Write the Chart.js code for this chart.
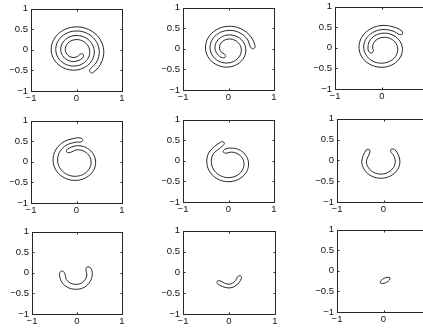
<!DOCTYPE html>
<html>
<head>
<meta charset="utf-8">
<script src="https://cdn.jsdelivr.net/npm/chart.js@4.4.1/dist/chart.umd.min.js"></script>
<style>
  html, body { margin: 0; padding: 0; background: #fff; }
  body { width: 423px; height: 331px; position: relative; overflow: hidden; }
  canvas { position: absolute; }
</style>
</head>
<body>
<script>
// Outline of the band at each snapshot (closed curves, axis units)
const p1x = [0.350, 0.531, 0.600, 0.500, 0.268, -0.030, -0.310, -0.500, -0.555, -0.470, -0.275, -0.030, 0.198, 0.349, 0.390, 0.319, 0.163, -0.030, -0.205, -0.318, -0.345, -0.288, -0.170, -0.030, 0.093, 0.149,
  0.143,
  0.072, 0.043, -0.030, -0.120, -0.201, -0.245, -0.231, -0.155, -0.030, 0.113, 0.232, 0.290, 0.262, 0.148, -0.030, -0.225, -0.383, -0.455, -0.413, -0.260, -0.030, 0.218, 0.414, 0.500, 0.444, 0.293,
  0.300];
const p1y = [-0.562, -0.344, -0.020, 0.286, 0.495, 0.558, 0.465, 0.251, -0.020, -0.274, -0.444, -0.493, -0.414, -0.239, -0.020, 0.181, 0.313, 0.348, 0.283, 0.146, -0.020, -0.169, -0.262, -0.283, -0.232, -0.170,
  -0.100,
  -0.106, -0.146, -0.183, -0.176, -0.119, -0.020, 0.096, 0.197, 0.248, 0.227, 0.131, -0.020, -0.189, -0.327, -0.393, -0.358, -0.224, -0.020, 0.201, 0.378, 0.458, 0.409, 0.236, -0.020, -0.294, -0.480,
  -0.540];

const p2x = [0.585, 0.495, 0.273, -0.010, -0.275, -0.454, -0.505, -0.424, -0.240, -0.010, 0.203, 0.343, 0.380, 0.313, 0.168, -0.010, -0.170, -0.272, -0.295, -0.242, -0.135,
  -0.067,
  -0.085, -0.155, -0.195, -0.185, -0.120, -0.010, 0.118, 0.226, 0.280, 0.256, 0.153, -0.010, -0.190, -0.337, -0.405, -0.367, -0.225, -0.010, 0.223, 0.408, 0.485,
  0.539];
const p2y = [0.052, 0.291, 0.489, 0.548, 0.459, 0.256, 0.000, -0.239, -0.398, -0.443, -0.368, -0.204, 0.000, 0.186, 0.307, 0.338, 0.277, 0.151, 0.000, -0.134, -0.217,
  -0.198,
  -0.130, -0.084, 0.000, 0.101, 0.191, 0.238, 0.221, 0.136, 0.000, -0.154, -0.281, -0.343, -0.312, -0.189, 0.000, 0.206, 0.372, 0.448, 0.403, 0.241, 0.043,
  -0.002];

const p3x = [0.430, 0.306, 0.020, -0.250, -0.434, -0.489, -0.407, -0.219, 0.020, 0.243, 0.392, 0.434, 0.365, 0.211, 0.020, -0.155, -0.270, -0.299, -0.280,
  -0.219,
  -0.184, -0.199, -0.183, -0.105, 0.020, 0.161, 0.278, 0.334, 0.305, 0.193, 0.020, -0.169, -0.320, -0.389, -0.348, -0.200, 0.020, 0.256, 0.359,
  0.430];
const p3y = [0.400, 0.486, 0.546, 0.458, 0.252, -0.010, -0.256, -0.423, -0.471, -0.396, -0.225, -0.010, 0.189, 0.321, 0.356, 0.293, 0.157, -0.010, -0.091,
  -0.126,
  -0.065, -0.010, 0.107, 0.207, 0.256, 0.234, 0.139, -0.010, -0.175, -0.309, -0.371, -0.337, -0.206, -0.010, 0.202, 0.371, 0.446, 0.399, 0.329,
  0.329];

const p4x = [0.099, 0.000, -0.273, -0.460, -0.515, -0.433, -0.242, 0.000, 0.226, 0.378, 0.420, 0.350, 0.194, 0.000, -0.203,
  -0.216,
  -0.146, 0.000, 0.144, 0.264, 0.320, 0.291, 0.176, 0.000, -0.192, -0.346, -0.415, -0.373, -0.223, 0.000, 0.081,
  0.139];
const p4y = [0.577, 0.581, 0.492, 0.284, 0.018, -0.232, -0.401, -0.450, -0.373, -0.200, 0.018, 0.220, 0.355, 0.391, 0.308,
  0.238,
  0.226, 0.291, 0.268, 0.170, 0.018, -0.150, -0.287, -0.350, -0.314, -0.182, 0.018, 0.234, 0.405, 0.481, 0.479,
  0.519];

const p5x = [-0.155, -0.423, -0.476, -0.394, -0.205, 0.032, 0.253, 0.400, 0.440, 0.371, 0.219, 0.032, -0.087,
  -0.117,
  -0.053, 0.032, 0.169, 0.284, 0.340, 0.313, 0.203, 0.032, -0.155, -0.307, -0.376, -0.336, -0.121,
  -0.091];
const p5y = [0.466, 0.214, -0.048, -0.294, -0.459, -0.506, -0.430, -0.260, -0.048, 0.148, 0.277, 0.310, 0.278,
  0.214,
  0.184, 0.210, 0.190, 0.098, -0.048, -0.210, -0.344, -0.406, -0.373, -0.244, -0.048, 0.164, 0.372,
  0.436];

const p6x = [-0.372, -0.467, -0.409, -0.256, -0.050, 0.154, 0.302, 0.353, 0.297, 0.233,
  0.162,
  0.162, 0.211, 0.253, 0.215, 0.104, -0.050, -0.206, -0.323, -0.367, -0.295,
  -0.301];
const p6y = [0.250, -0.020, -0.228, -0.377, -0.430, -0.373, -0.223, -0.020, 0.181, 0.263,
  0.263,
  0.192, 0.131, -0.020, -0.173, -0.287, -0.330, -0.290, -0.178, -0.020, 0.186,
  0.256];

const p7x = [-0.389, -0.342, -0.210, -0.030, 0.153, 0.286, 0.340, 0.305,
  0.226,
  0.197, 0.220, 0.182, 0.093, -0.030, -0.150, -0.238, -0.269,
  -0.324];
const p7y = [-0.009, -0.220, -0.352, -0.400, -0.356, -0.223, -0.040, 0.117,
  0.145,
  0.066, -0.040, -0.163, -0.252, -0.280, -0.248, -0.160, -0.019,
  0.046];

const p8x = [-0.243, -0.137, 0.000, 0.123, 0.216, 0.270, 0.250, 0.190, 0.144, 0.077, 0.000, -0.103, -0.197, -0.259];
const p8y = [-0.279, -0.342, -0.375, -0.338, -0.246, -0.140, -0.080, -0.100, -0.194, -0.262, -0.285, -0.258, -0.201, -0.217];

const p9x = [0.140, 0.090, 0.009, -0.057, -0.068, -0.018, 0.064, 0.129];
const p9y = [-0.172, -0.156, -0.184, -0.241, -0.292, -0.308, -0.280, -0.223];

const xTicks = [-1, 0, 1];
const yTicks = [-1, -0.5, 0, 0.5, 1];

const curvesX = [p1x, p2x, p3x, p4x, p5x, p6x, p7x, p8x, p9x];
const curvesY = [p1y, p2y, p3y, p4y, p5y, p6y, p7y, p8y, p9y];

// plot area of each panel on the page: left, top, width, height
const boxes = [
  [31, 7, 91, 84], [183, 6, 91, 84], [335, 5, 94, 84],
  [31, 119, 91, 84], [183, 118, 91, 84], [337, 117, 93, 85],
  [32, 230, 90, 84], [183, 229, 92, 85], [337, 228, 93, 84]
];

const INK = '#262626';
const PAD_L = 32, PAD_T = 7, PAD_R = 8, PAD_B = 18;

const fmt = v => String(v).replace('-', '\u2212');

// full box round the axes with short inward tick marks
const frame = {
  id: 'frame',
  afterDraw(chart) {
    const { ctx, chartArea: a, scales } = chart;
    const l = Math.round(a.left) + 0.5, t = Math.round(a.top) + 0.5;
    const r = Math.round(a.right) + 0.5, b = Math.round(a.bottom) + 0.5;
    ctx.save();
    ctx.strokeStyle = INK;
    ctx.lineWidth = 1;
    ctx.strokeRect(l, t, r - l, b - t);
    ctx.beginPath();
    xTicks.forEach(v => {
      const px = Math.round(scales.x.getPixelForValue(v)) + 0.5;
      ctx.moveTo(px, b); ctx.lineTo(px, b - 2);
      ctx.moveTo(px, t); ctx.lineTo(px, t + 2);
    });
    yTicks.forEach(v => {
      const py = Math.round(scales.y.getPixelForValue(v)) + 0.5;
      ctx.moveTo(l, py); ctx.lineTo(l + 2, py);
      ctx.moveTo(r, py); ctx.lineTo(r - 2, py);
    });
    ctx.stroke();
    ctx.restore();
  }
};

function axis(ticks, fit, pad) {
  return {
    type: 'linear',
    min: -1,
    max: 1,
    afterBuildTicks: s => { s.ticks = ticks.map(v => ({ value: v })); },
    afterFit: fit,
    grid: { display: false, drawTicks: false },
    border: { display: false },
    ticks: {
      autoSkip: false,
      maxRotation: 0,
      padding: pad,
      color: '#111',
      font: { family: '"Liberation Sans", Arial, sans-serif', size: 9.5 },
      callback: fmt
    }
  };
}

function makePanel(i) {
  const [left, top, w, h] = boxes[i];
  const canvas = document.createElement('canvas');
  canvas.width = w + PAD_L + PAD_R;
  canvas.height = h + PAD_T + PAD_B;
  canvas.style.left = (left - PAD_L) + 'px';
  canvas.style.top = (top - PAD_T) + 'px';
  canvas.style.width = canvas.width + 'px';
  canvas.style.height = canvas.height + 'px';
  document.body.appendChild(canvas);

  const pts = curvesX[i].map((x, k) => ({ x, y: curvesY[i][k] }));
  const n = pts.length;
  // wrap the ends so the closing segment is smooth; the two extra segments are hidden
  const loop = [pts[n - 1], ...pts, pts[0], pts[1]];

  new Chart(canvas, {
    type: 'scatter',
    data: {
      datasets: [{
        data: loop,
        showLine: true,
        tension: 0.36,
        borderColor: INK,
        borderWidth: 1,
        pointRadius: 0,
        segment: {
          borderColor: c => (c.p0DataIndex === 0 || c.p1DataIndex === n + 2) ? 'rgba(0,0,0,0)' : INK
        }
      }]
    },
    options: {
      responsive: false,
      animation: false,
      devicePixelRatio: 1,
      events: [],
      layout: { padding: { top: PAD_T, right: PAD_R, left: 0, bottom: 0 } },
      plugins: { legend: { display: false }, tooltip: { enabled: false } },
      scales: {
        x: axis(xTicks, s => { s.height = PAD_B; }, 2),
        y: axis(yTicks, s => { s.width = PAD_L; }, 3)
      }
    },
    plugins: [frame]
  });
}

boxes.forEach((b, i) => makePanel(i));
</script>
</body>
</html>
